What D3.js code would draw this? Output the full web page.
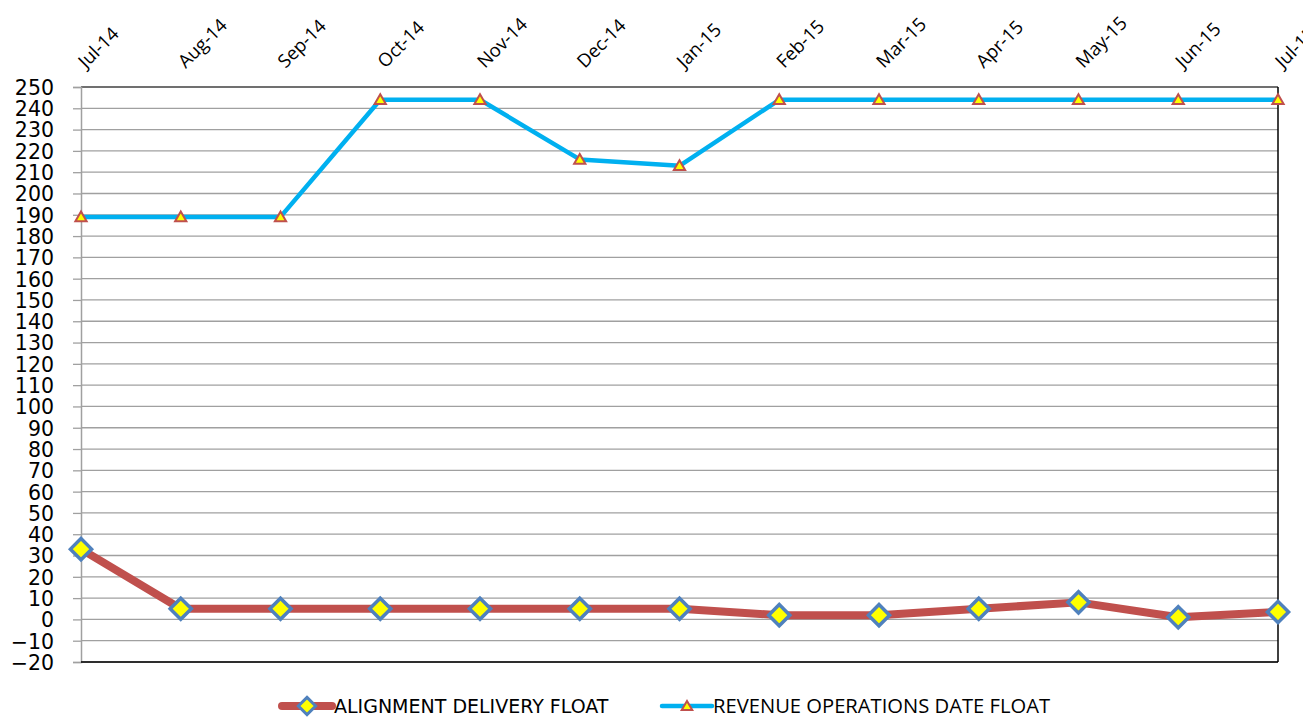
<!DOCTYPE html>
<html>
<head>
<meta charset="utf-8">
<script src="https://cdn.jsdelivr.net/npm/d3@7"></script>
<style>
  html, body { margin: 0; padding: 0; background: #fff; overflow: hidden; }
  svg { display: block; }
</style>
</head>
<body>
<div id="chart"></div>
<script>
// values
const months = ['Jul-14', 'Aug-14', 'Sep-14', 'Oct-14', 'Nov-14', 'Dec-14', 'Jan-15',
                'Feb-15', 'Mar-15', 'Apr-15', 'May-15', 'Jun-15', 'Jul-15'];
const alignmentFloat = [33, 5, 5, 5, 5, 5, 5, 2, 2, 5, 8, 1, 3.5];
const revenueFloat   = [189, 189, 189, 244, 244, 216, 213, 244, 244, 244, 244, 244, 244];
const yTicks = d3.range(-20, 251, 10);
const seriesNames = ['ALIGNMENT DELIVERY FLOAT', 'REVENUE OPERATIONS DATE FLOAT'];

(function () {
  const W = 1303, H = 717;
  const plot = { left: 81, right: 1278, top: 87, bottom: 662 };

  const svg = d3.select('#chart').append('svg')
    .attr('width', W)
    .attr('height', H);

  const x = d3.scalePoint()
    .domain(months)
    .range([plot.left, plot.right]);

  const y = d3.scaleLinear()
    .domain([-20, 250])
    .range([plot.bottom, plot.top]);

  /* --- gridlines ---------------------------------------------------- */
  svg.append('g')
    .selectAll('line')
    .data(yTicks)
    .join('line')
      .attr('x1', plot.left)
      .attr('x2', plot.right)
      .attr('y1', d => y(d))
      .attr('y2', d => y(d))
      .attr('stroke', d => d === 250 ? '#707070' : '#a0a0a0')
      .attr('stroke-width', d => d === 250 ? 2 : 1.3);

  /* --- y axis (left) ------------------------------------------------ */
  const yAxisG = svg.append('g')
    .attr('transform', `translate(${plot.left},0)`)
    .call(d3.axisLeft(y).tickValues(yTicks).tickSize(8).tickPadding(19).tickFormat(d3.format('d')));
  yAxisG.select('.domain').attr('stroke', '#a0a0a0').attr('stroke-width', 1.5);
  yAxisG.selectAll('.tick line').attr('stroke', '#a0a0a0').attr('stroke-width', 1.3);
  yAxisG.selectAll('.tick text')
    .attr('fill', '#000')
    .attr('dy', '0.36em')
    .style('font-family', '"DejaVu Sans", sans-serif')
    .style('font-size', '20.5px');

  /* --- frame: right + bottom black ---------------------------------- */
  svg.append('line')
    .attr('x1', plot.right).attr('x2', plot.right)
    .attr('y1', plot.top).attr('y2', plot.bottom)
    .attr('stroke', '#000').attr('stroke-width', 1.5);
  svg.append('line')
    .attr('x1', plot.left).attr('x2', plot.right)
    .attr('y1', plot.bottom).attr('y2', plot.bottom)
    .attr('stroke', '#000').attr('stroke-width', 1.5);

  /* --- x labels on top, rotated ------------------------------------- */
  svg.append('g')
    .selectAll('text')
    .data(months)
    .join('text')
      .attr('transform', d => `translate(${x(d) + 5},${plot.top - 18}) rotate(-45)`)
      .attr('text-anchor', 'start')
      .style('font-family', '"Open Sans", sans-serif')
      .style('font-size', '18.5px')
      .attr('fill', '#000')
      .text(d => d);

  /* --- series ------------------------------------------------------- */
  const alignData = months.map((m, i) => ({ m, v: alignmentFloat[i] }));
  const revData   = months.map((m, i) => ({ m, v: revenueFloat[i] }));

  const line = d3.line().x(d => x(d.m)).y(d => y(d.v));

  svg.append('path')
    .datum(alignData)
    .attr('fill', 'none')
    .attr('stroke', '#c0504d')
    .attr('stroke-width', 8)
    .attr('stroke-linejoin', 'round')
    .attr('d', line);

  svg.append('path')
    .datum(revData)
    .attr('fill', 'none')
    .attr('stroke', '#00b0f0')
    .attr('stroke-width', 4.5)
    .attr('stroke-linejoin', 'round')
    .attr('d', line);

  const diamond = d3.symbol().type(d3.symbolDiamond2).size(285);
  const triangle = d3.symbol().type(d3.symbolTriangle2).size(90);

  svg.append('g')
    .selectAll('path')
    .data(alignData)
    .join('path')
      .attr('transform', d => `translate(${x(d.m)},${y(d.v)})`)
      .attr('d', diamond)
      .attr('fill', '#ffff00')
      .attr('stroke', '#4f81bd')
      .attr('stroke-width', 3.5);

  svg.append('g')
    .selectAll('path')
    .data(revData)
    .join('path')
      .attr('transform', d => `translate(${x(d.m)},${y(d.v) + 1})`)
      .attr('d', triangle)
      .attr('fill', '#ffff00')
      .attr('stroke', '#c0504d')
      .attr('stroke-width', 2);

  /* --- legend ------------------------------------------------------- */
  const legY = 706;
  const leg1 = svg.append('g').attr('transform', `translate(282,${legY})`);
  leg1.append('line')
    .attr('x1', 0).attr('x2', 50)
    .attr('stroke', '#c0504d').attr('stroke-width', 8).attr('stroke-linecap', 'round');
  leg1.append('path')
    .attr('transform', 'translate(25,0)')
    .attr('d', d3.symbol().type(d3.symbolDiamond2).size(190))
    .attr('fill', '#ffff00').attr('stroke', '#4f81bd').attr('stroke-width', 3);
  leg1.append('text')
    .attr('x', 52).attr('y', 7)
    .style('font-family', '"DejaVu Sans", sans-serif')
    .style('font-size', '19px')
    .attr('fill', '#000')
    .text(seriesNames[0]);

  const leg2 = svg.append('g').attr('transform', `translate(662,${legY})`);
  leg2.append('line')
    .attr('x1', 0).attr('x2', 50)
    .attr('stroke', '#00b0f0').attr('stroke-width', 4.5).attr('stroke-linecap', 'round');
  leg2.append('path')
    .attr('transform', 'translate(25,1)')
    .attr('d', d3.symbol().type(d3.symbolTriangle2).size(80))
    .attr('fill', '#ffff00').attr('stroke', '#c0504d').attr('stroke-width', 2);
  leg2.append('text')
    .attr('x', 51).attr('y', 7)
    .style('font-family', '"Liberation Sans Narrow", "Open Sans", sans-serif')
    .style('font-size', '20.2px')
    .attr('fill', '#000')
    .text(seriesNames[1]);
})();
</script>
</body>
</html>
